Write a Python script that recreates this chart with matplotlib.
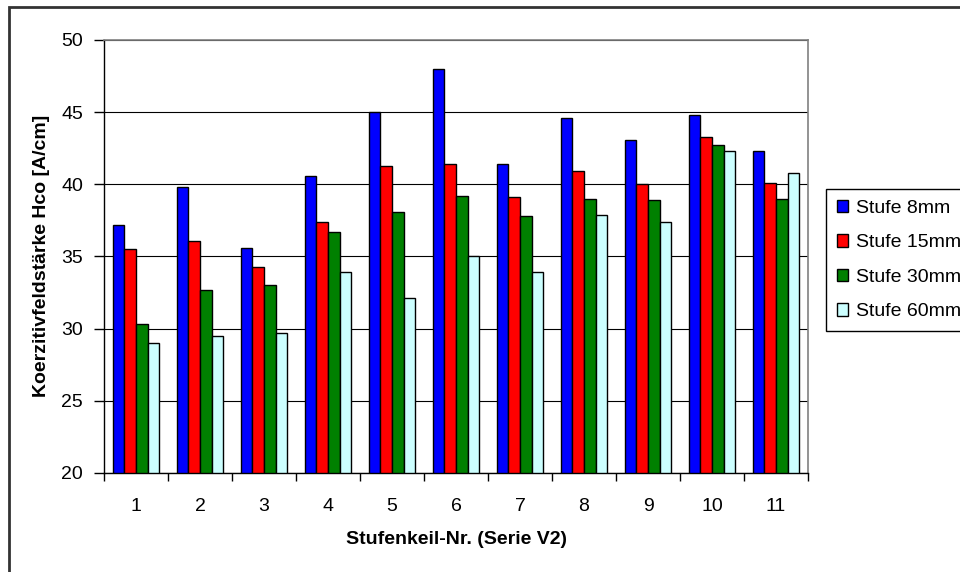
import matplotlib.pyplot as plt
import numpy as np
from matplotlib.patches import Rectangle

plt.rcParams['font.family'] = ['Liberation Sans', 'DejaVu Sans']

categories = ['1', '2', '3', '4', '5', '6', '7', '8', '9', '10', '11']
series_names = ['Stufe 8mm', 'Stufe 15mm', 'Stufe 30mm', 'Stufe 60mm']
stufe_8 = [37.2, 39.8, 35.6, 40.6, 45.0, 48.0, 41.4, 44.6, 43.1, 44.8, 42.3]
stufe_15 = [35.5, 36.1, 34.3, 37.4, 41.3, 41.4, 39.1, 40.9, 40.0, 43.3, 40.1]
stufe_30 = [30.3, 32.7, 33.0, 36.7, 38.1, 39.2, 37.8, 39.0, 38.9, 42.7, 39.0]
stufe_60 = [29.0, 29.5, 29.7, 33.9, 32.1, 35.0, 33.9, 37.9, 37.4, 42.3, 40.8]
colors = ['#0000FF', '#FF0000', '#008000', '#CCFFFF']

W, H = 960, 572
fig = plt.figure(figsize=(W / 100, H / 100), dpi=100)
ax = fig.add_axes([104 / W, 1 - 473 / H, 704 / W, 433 / H])

x = np.arange(len(categories))
bw = 1 / 5.5
handles = []
for i, (vals, name, c) in enumerate(zip([stufe_8, stufe_15, stufe_30, stufe_60],
                                        series_names, colors)):
    b = ax.bar(x + (i - 1.5) * bw, np.array(vals) - 20, bottom=20, width=bw,
               color=c, edgecolor='black', linewidth=1.0, label=name, zorder=3)
    handles.append(b)

ax.set_xlim(-0.5, len(categories) - 0.5)
ax.set_ylim(20, 50)
ax.set_yticks(np.arange(20, 51, 5))
ax.yaxis.grid(True, color='black', linewidth=0.8, zorder=0)

# category ticks sit between the groups, labels centred under them
ax.set_xticks(np.arange(-0.5, len(categories), 1))
ax.set_xticklabels([])
ax.set_xticks(x, minor=True)
ax.set_xticklabels(categories, minor=True)
ax.tick_params(axis='x', which='major', direction='out', length=6, width=1)
ax.tick_params(axis='x', which='minor', length=0, pad=18, labelsize=14)
ax.tick_params(axis='y', direction='out', length=7, width=1, pad=8, labelsize=14)

for side in ['top', 'right']:
    ax.spines[side].set_color('#808080')
    ax.spines[side].set_linewidth(1.2)
for side in ['left', 'bottom']:
    ax.spines[side].set_color('black')
    ax.spines[side].set_linewidth(1.0)

fig.text(457 / W, 1 - 540 / H, 'Stufenkeil-Nr. (Serie V2)', ha='center', va='center',
         fontsize=14, fontweight='bold')
fig.text(42 / W, 1 - 256 / H, 'Koerzitivfeldstärke Hco [A/cm]', ha='center', va='center',
         rotation=90, fontsize=14, fontweight='bold')

leg = fig.legend(handles=handles, labels=series_names, loc='upper left',
                 bbox_to_anchor=(826 / W, 1 - 189 / H), fontsize=14,
                 frameon=True, fancybox=False, edgecolor='black', framealpha=1,
                 borderaxespad=0, borderpad=0.55, handlelength=0.6, handleheight=0.6,
                 handletextpad=0.4, labelspacing=0.9)
leg.get_frame().set_linewidth(1.0)

# outer chart frame
fig.patches.append(Rectangle((8.5 / W, -0.05), 1.1, 1.05 - 7 / H, transform=fig.transFigure,
                             fill=False, edgecolor='#333333', linewidth=2))

fig.savefig('out.png', dpi=100)
